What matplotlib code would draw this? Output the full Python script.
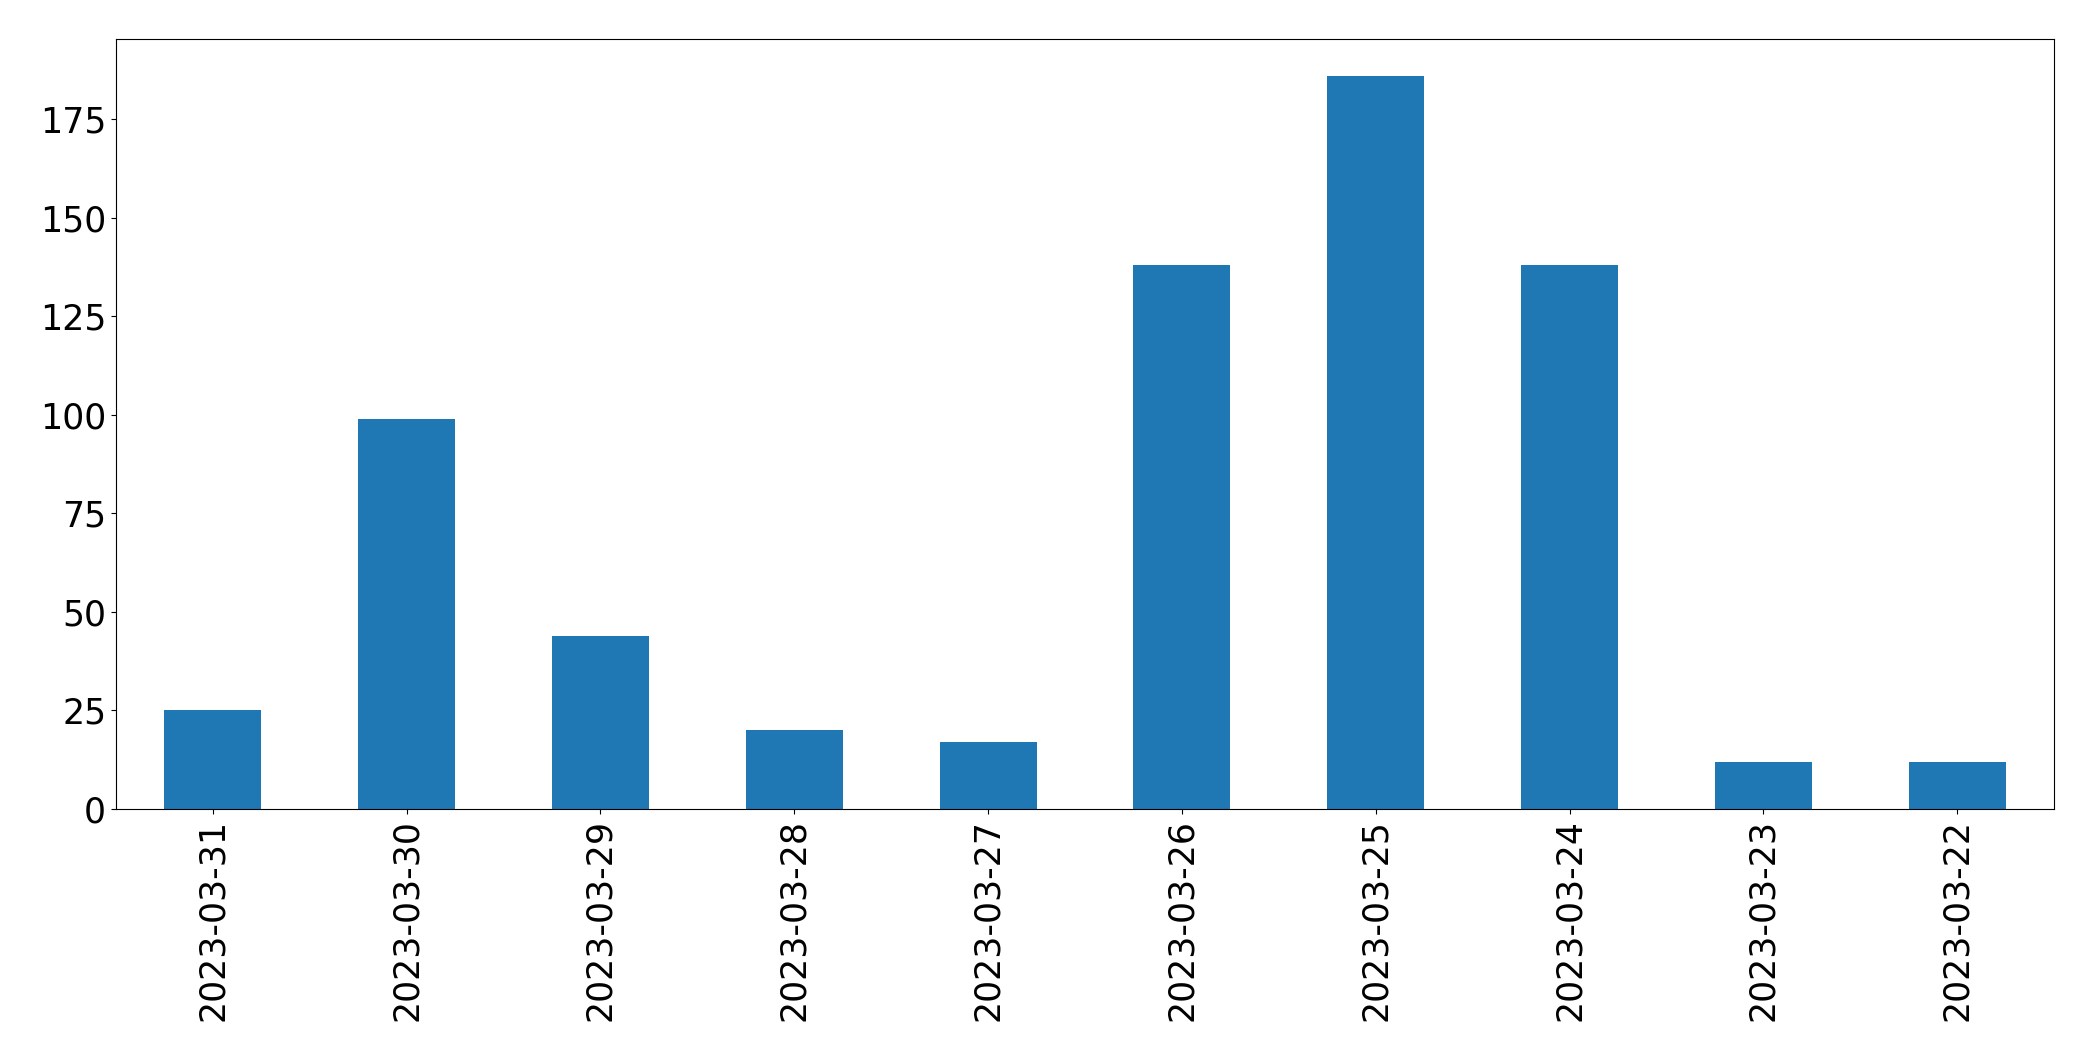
import matplotlib

matplotlib.use("Agg")
import matplotlib.pyplot as plt

dates = [
    "2023-03-31", "2023-03-30", "2023-03-29", "2023-03-28", "2023-03-27",
    "2023-03-26", "2023-03-25", "2023-03-24", "2023-03-23", "2023-03-22",
]
counts = [25, 99, 44, 20, 17, 138, 186, 138, 12, 12]

fig, ax = plt.subplots(figsize=(20.93, 10.61), dpi=100)
fig.subplots_adjust(left=0.0554, right=0.9814, top=0.9632, bottom=0.2375)

pos = list(range(len(dates)))
ax.bar(pos, counts, width=0.5, color="#1f77b4")
ax.set_xlim(-0.5, len(dates) - 0.5)
ax.set_xticks(pos)
ax.set_xticklabels(dates, rotation=90)
ax.tick_params(labelsize=25)

fig.savefig("out.png", dpi=100)
